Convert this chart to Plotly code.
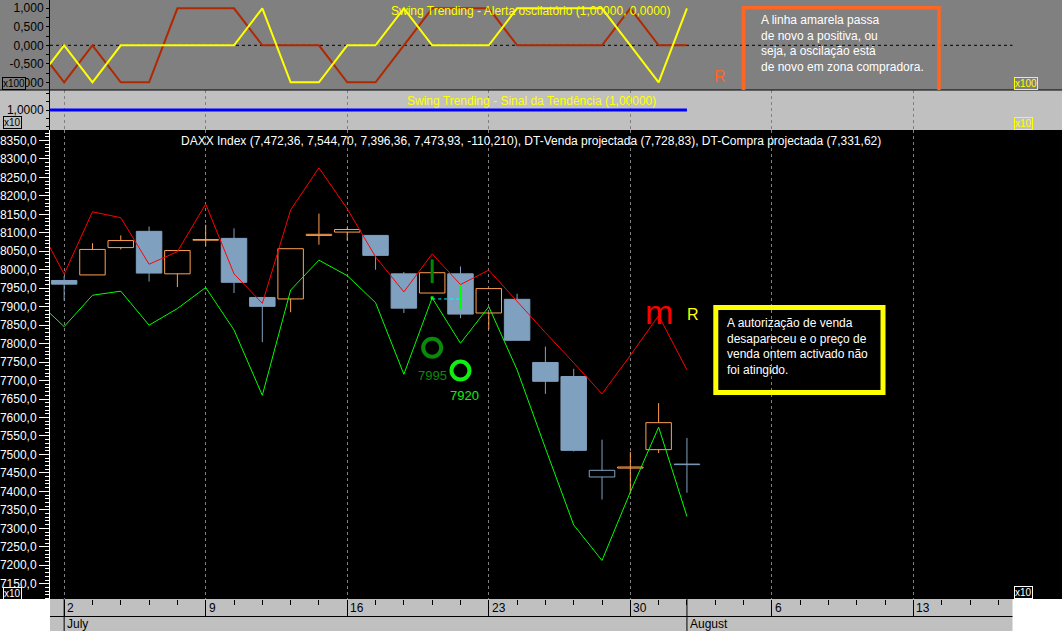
import plotly.graph_objects as go

# ---------------------------------------------------------------- data
# trading-day positions: 0 = Mon 2 July 2012 ... 22 = Wed 1 August 2012
candle_pos = [0, 1, 2, 3, 4, 5, 6, 7, 8, 9, 10, 11, 12, 13, 14, 15, 16, 17, 18, 19, 20, 21, 22]
candle_open = [7971, 7986, 8060, 8104, 7989, 8080, 8085, 7925, 7921, 8093, 8102, 8093,
               7989, 7937, 7989, 7883, 7920, 7749, 7711, 7439, 7463, 7513, 7472.36]
candle_high = [7983, 8072, 8093, 8117, 8052, 8122, 8112, 7925, 8057, 8152, 8115, 8093,
               7994, 7992, 8009, 7949, 7935, 7792, 7732, 7540, 7507, 7639, 7544.70]
candle_low = [7916, 7986, 8055, 7968, 7953, 8064, 7937, 7804, 7885, 8068, 8079, 8000,
              7883, 7937, 7869, 7838, 7809, 7664, 7508, 7378, 7394, 7504, 7396.36]
candle_close = [7961, 8055, 8079, 7991, 8052, 8082, 7966, 7901, 8057, 8096, 8109, 8039,
                7896, 7992, 7880, 7949, 7809, 7698, 7511, 7457, 7466, 7586, 7473.93]
candle_kind = ["down", "up", "up", "down", "up", "up", "down", "down", "up", "up", "up", "down",
               "down", "up", "down", "up", "down", "down", "down", "outline", "up", "up", "outline"]

# indicator lines (position -1 = last day of June, partly visible)
line_pos = [-1, 0, 1, 2, 3, 4, 5, 6, 7, 8, 9, 10, 11, 12, 13, 14, 15, 16, 17, 18, 19, 20, 21, 22]
sell_projected = [8133, 7988, 8157, 8141, 8015, 8049, 8178, 7989, 7909, 8162, 8276, 8165,
                  8035, 7940, 8043, 7960, 7999, 7914, 7830, 7748, 7664, 7768, 7876, 7729]
buy_projected = [7918, 7846, 7931, 7942, 7850, 7895, 7952, 7837, 7660, 7945, 8026, 7984,
                 7911, 7717, 7924, 7801, 7900, 7729, 7517, 7309, 7213, 7398, 7574, 7332]
osc_yellow = [-1, 0, -1, 0, 0, 0, 0, 0, 1, -1, -1, 0, 0, 1, 0, 0, 0, 1, 1, 1, 1, 0, -1, 1]
osc_brown = [0, -1, 0, -1, -1, 1, 1, 1, 0, 0, 0, -1, -1, 0, 1, 1, 1, 0, 0, 0, 0, 1, 0, 0]
trend_signal = [1.0, 1.0, 1.0, 1.0, 1.0, 1.0, 1.0, 1.0, 1.0, 1.0, 1.0, 1.0,
                1.0, 1.0, 1.0, 1.0, 1.0, 1.0, 1.0, 1.0, 1.0, 1.0, 1.0, 1.0]

# signal marks
dark_bar_pos, dark_bar_from, dark_bar_to = 13, 8028, 7964
light_bar_pos, light_bar_from, light_bar_to = 14, 7956, 7892
stop_pos = [13, 14]
stop_val = [7921, 7921]
ring_dark_pos, ring_dark_val, ring_dark_text, ring_dark_text_val = 13, 7789, "7995", 7713
ring_light_pos, ring_light_val, ring_light_text, ring_light_text_val = 14, 7727, "7920", 7659
m_pos, m_val = 21.0, 7886
r_pos, r_val = 22.2, 7880

# axis labels
week_pos = [0, 5, 10, 15, 20, 25, 30]
week_labels = ["2", "9", "16", "23", "30", "6", "13"]
month_pos = [0, 22]
month_labels = ["July", "August"]
osc_tickvals = [1, 0.5, 0, -0.5, -1]
osc_ticktext = ["1,000", "0,500", "0,000", "-0,500", "-1,000"]

header = ("DAXX Index (7,472,36, 7,544,70, 7,396,36, 7,473,93, -110,210), "
          "DT-Venda projectada (7,728,83), DT-Compra projectada (7,331,62)")
osc_title = "Swing Trending - Alerta oscilatório (1,00000, 0,0000)"
trend_title = "Swing Trending - Sinal da Tendência (1,00000)"
note_top = ("A linha amarela passa<br>de novo a positiva, ou<br>"
            "seja, a oscilação está<br>de novo em zona compradora.")
note_main = ("A autorização de venda<br>desapareceu e o preço de<br>"
             "venda ontem activado não<br>foi atingido.")

# ---------------------------------------------------------------- layout helpers
W, H = 1062, 631
PL, PR = 50, 1012.5
FONT = "Liberation Sans, Arial, sans-serif"


def fx(p):
    return p / W


def fy(p):
    return 1 - p / H


BLUE = "#80a0c0"
ORANGE = "#ffa050"
fill_map = {"down": BLUE, "up": "rgba(0,0,0,0)", "outline": "rgba(0,0,0,0)"}
edge_map = {"down": BLUE, "up": ORANGE, "outline": BLUE}

body_base = [min(o, c) for o, c in zip(candle_open, candle_close)]
body_len = [abs(c - o) for o, c in zip(candle_open, candle_close)]

wx = {"blue": [], "orange": []}
wy = {"blue": [], "orange": []}
for p, o, h, l, c, k in zip(candle_pos, candle_open, candle_high, candle_low, candle_close, candle_kind):
    key = "orange" if k == "up" else "blue"
    top, bot = max(o, c), min(o, c)
    wx[key] += [p, p, None, p, p, None]
    wy[key] += [h, top, None, bot, l, None]

fig = go.Figure()

# candle bodies
fig.add_trace(go.Bar(
    x=candle_pos, base=body_base, y=body_len, width=0.9,
    marker=dict(color=[fill_map[k] for k in candle_kind],
                line=dict(color=[edge_map[k] for k in candle_kind], width=1)),
    xaxis="x", yaxis="y", hoverinfo="skip"))
# wicks
fig.add_trace(go.Scatter(x=wx["blue"], y=wy["blue"], mode="lines",
                         line=dict(color=BLUE, width=1), xaxis="x", yaxis="y", hoverinfo="skip"))
fig.add_trace(go.Scatter(x=wx["orange"], y=wy["orange"], mode="lines",
                         line=dict(color=ORANGE, width=1), xaxis="x", yaxis="y", hoverinfo="skip"))
# projected lines
fig.add_trace(go.Scatter(x=line_pos, y=sell_projected, mode="lines",
                         line=dict(color="#ff0000", width=1), xaxis="x", yaxis="y"))
fig.add_trace(go.Scatter(x=line_pos, y=buy_projected, mode="lines",
                         line=dict(color="#00ff00", width=1), xaxis="x", yaxis="y"))
# signal marks
fig.add_trace(go.Scatter(x=[dark_bar_pos, dark_bar_pos], y=[dark_bar_from, dark_bar_to], mode="lines",
                         line=dict(color="#008800", width=3), xaxis="x", yaxis="y"))
fig.add_trace(go.Scatter(x=[light_bar_pos, light_bar_pos], y=[light_bar_from, light_bar_to], mode="lines",
                         line=dict(color="#00ff00", width=3), xaxis="x", yaxis="y"))
fig.add_trace(go.Scatter(x=stop_pos, y=stop_val, mode="lines",
                         line=dict(color="#00ffff", width=1, dash="3px,3px"), xaxis="x", yaxis="y"))
fig.add_trace(go.Scatter(x=[stop_pos[0]], y=[buy_projected[line_pos.index(stop_pos[0])]], mode="markers",
                         marker=dict(symbol="square", size=3, color="#00ff00"), xaxis="x", yaxis="y"))
fig.add_trace(go.Scatter(x=[ring_dark_pos], y=[ring_dark_val], mode="markers",
                         marker=dict(symbol="circle-open", size=18, color="#0a8a0a", line=dict(width=4)),
                         xaxis="x", yaxis="y"))
fig.add_trace(go.Scatter(x=[ring_light_pos], y=[ring_light_val], mode="markers",
                         marker=dict(symbol="circle-open", size=18, color="#10f010", line=dict(width=4)),
                         xaxis="x", yaxis="y"))

# oscillator panel
fig.add_trace(go.Scatter(x=line_pos, y=osc_brown, mode="lines",
                         line=dict(color="#b02800", width=2), xaxis="x2", yaxis="y2"))
fig.add_trace(go.Scatter(x=line_pos, y=osc_yellow, mode="lines",
                         line=dict(color="#ffff00", width=2), xaxis="x2", yaxis="y2"))
# trend panel
fig.add_trace(go.Scatter(x=line_pos, y=trend_signal, mode="lines",
                         line=dict(color="#0000ff", width=3), xaxis="x3", yaxis="y3"))

XD = [fx(PL), fx(PR)]
grid = dict(showgrid=True, gridcolor="#808080", griddash="3px,3px", gridwidth=1)

main_y = dict(range=[7108.6, 8378.4], tickmode="linear", tick0=0, dtick=50, tickformat=".1f",
              ticks="outside", tickcolor="white", tickfont=dict(color="white", size=12, family=FONT),
              showline=True, linecolor="white", linewidth=1, showgrid=False, zeroline=False)
osc_y = dict(range=[-1.208, 1.224], tickmode="array", tickvals=osc_tickvals, ticktext=osc_ticktext,
             ticks="outside", ticklen=3, showgrid=False, zeroline=False, showline=True, linewidth=1)
trend_y = dict(range=[0.405, 1.595], tickmode="array", tickvals=[1], ticktext=["1,0000"],
               ticks="outside", ticklen=3, showgrid=False, zeroline=False, showline=True, linewidth=1)

fig.update_layout(
    width=W, height=H, autosize=False, margin=dict(l=0, r=0, t=0, b=0),
    paper_bgcolor="white", plot_bgcolor="rgba(0,0,0,0)", showlegend=False,
    barmode="overlay", separators=",.", hovermode=False,
    font=dict(family=FONT, size=12, color="white"),
    xaxis=dict(domain=XD, range=[-0.5, 33.5], anchor="y", tickmode="linear", tick0=0, dtick=5,
               ticks="outside", ticklen=17, tickcolor="black", tickwidth=1, showticklabels=False,
               zeroline=False, showline=False,
               minor=dict(tickmode="linear", tick0=0, dtick=1, ticks="outside", ticklen=5,
                          tickcolor="black", showgrid=False),
               **grid),
    xaxis2=dict(domain=XD, matches="x", anchor="y2", showticklabels=False, ticks="",
                showgrid=False, zeroline=False, showline=False),
    xaxis3=dict(domain=XD, matches="x", anchor="y3", showticklabels=False, ticks="",
                tickmode="linear", tick0=0, dtick=5, zeroline=False, showline=False, **grid),
    yaxis=dict(domain=[fy(599), fy(130)], anchor="x", side="left", ticklen=10,
               minor=dict(ticks="outside", ticklen=4, tickcolor="white", tick0=0, dtick=10, showgrid=False),
               **main_y),
    yaxis4=dict(overlaying="y", anchor="x", side="right", ticklen=5,
                minor=dict(ticks="outside", ticklen=3, tickcolor="white", tick0=0, dtick=10, showgrid=False),
                **main_y),
    yaxis2=dict(domain=[fy(90), 1], anchor="x2", side="left", linecolor="black", tickcolor="black",
                tickfont=dict(color="black", size=12, family=FONT),
                minor=dict(ticks="outside", ticklen=3, tickcolor="black", tick0=0, dtick=0.25, showgrid=False),
                **osc_y),
    yaxis5=dict(overlaying="y2", anchor="x2", side="right", linecolor="#ffff00", tickcolor="#ffff00",
                tickfont=dict(color="#ffff00", size=12, family=FONT),
                minor=dict(ticks="outside", ticklen=3, tickcolor="#ffff00", tick0=0, dtick=0.1, showgrid=False),
                **osc_y),
    yaxis3=dict(domain=[fy(130), fy(90)], anchor="x3", side="left", linecolor="black", tickcolor="black",
                tickfont=dict(color="black", size=12, family=FONT),
                minor=dict(ticks="outside", ticklen=3, tickcolor="black", tick0=0, dtick=0.25, showgrid=False),
                **trend_y),
    yaxis6=dict(overlaying="y3", anchor="x3", side="right", linecolor="#ffff00", tickcolor="#ffff00",
                tickfont=dict(color="#ffff00", size=12, family=FONT),
                minor=dict(ticks="outside", ticklen=3, tickcolor="#ffff00", tick0=0, dtick=0.25, showgrid=False),
                **trend_y),
)

shapes = [
    dict(type="rect", xref="paper", yref="paper", x0=0, x1=1, y0=fy(90), y1=1,
         fillcolor="#808080", line=dict(width=0), layer="below"),
    dict(type="rect", xref="paper", yref="paper", x0=0, x1=1, y0=fy(130), y1=fy(90),
         fillcolor="#c0c0c0", line=dict(width=0), layer="below"),
    dict(type="rect", xref="paper", yref="paper", x0=0, x1=1, y0=fy(599), y1=fy(130),
         fillcolor="black", line=dict(width=0), layer="below"),
    dict(type="rect", xref="paper", yref="paper", x0=fx(PL), x1=fx(PR), y0=0, y1=fy(599),
         fillcolor="#c0c0c0", line=dict(width=0), layer="below"),
    dict(type="line", xref="paper", yref="paper", x0=0, x1=1, y0=fy(90), y1=fy(90),
         line=dict(color="black", width=1)),
    dict(type="line", xref="paper", yref="paper", x0=fx(PL), x1=fx(PR), y0=fy(616.5), y1=fy(616.5),
         line=dict(color="black", width=1)),
    dict(type="line", xref="x2 domain", yref="y2", x0=0, x1=1, y0=0, y1=0,
         line=dict(color="black", width=1, dash="3px,3px"), layer="below"),
    # orange note frame (bottom edge cut by the panel)
    dict(type="path", xref="paper", yref="paper",
         path=f"M {fx(743.5)},{fy(90)} L {fx(743.5)},{fy(7.7)} L {fx(939)},{fy(7.7)} L {fx(939)},{fy(90)}",
         line=dict(color="#ff6622", width=3.5)),
    # yellow note frame
    dict(type="rect", xref="paper", yref="paper", x0=fx(715.8), x1=fx(883), y0=fy(392.5), y1=fy(307.5),
         line=dict(color="#ffff00", width=5)),
]
for mp in month_pos:
    shapes.append(dict(type="line", xref="x", yref="paper", x0=mp, x1=mp, y0=0, y1=fy(599),
                       line=dict(color="black", width=1)))
fig.update_layout(shapes=shapes)


def label(text, x, y, color, size, xref="paper", yref="paper", xanchor="center", **kw):
    return dict(text=text, xref=xref, yref=yref, x=x, y=y, xanchor=xanchor, yanchor="middle",
                showarrow=False, font=dict(color=color, size=size, family=FONT), **kw)


ann = [
    label(header, 0.5, fy(141), "white", 12, xref="x domain"),
    label(osc_title, 0.5, fy(11), "#ffff00", 12, xref="x domain"),
    label(trend_title, 0.5, fy(101), "#ffff00", 12, xref="x domain"),
    label(note_top, fx(759), fy(43.5), "white", 12, xanchor="left", align="left"),
    label(note_main, fx(725), fy(346.5), "white", 12, xanchor="left", align="left"),
    label("R", fx(720), fy(76), "#ff6622", 16),
    label("m", m_pos, m_val, "#ff0000", 34, xref="x", yref="y"),
    label("R", r_pos, r_val, "#ffff00", 16, xref="x", yref="y"),
    label(ring_dark_text, ring_dark_pos, ring_dark_text_val, "#0a8a0a", 13, xref="x", yref="y"),
    label(ring_light_text, ring_light_pos + 0.13, ring_light_text_val, "#10f010", 13, xref="x", yref="y"),
]
# small scale boxes
for (cx, cy, txt, col, bg) in [(14, 83.5, "x100", "black", "#808080"), (12, 122.5, "x10", "black", "#c0c0c0"),
                               (12, 593, "x10", "white", "black"), (1025.5, 83.5, "x100", "#ffff00", "#808080"),
                               (1023, 123, "x10", "#ffff00", "#c0c0c0"), (1023, 592.5, "x10", "white", "black")]:
    ann.append(label(txt, fx(cx), fy(cy), col, 10, bgcolor=bg, bordercolor=col, borderwidth=1, borderpad=0))
for p, t in zip(week_pos, week_labels):
    ann.append(label(t, p, fy(608), "black", 12, xref="x", xanchor="left", xshift=1))
for p, t in zip(month_pos, month_labels):
    ann.append(label(t, p, fy(624), "black", 12, xref="x", xanchor="left", xshift=1))
fig.update_layout(annotations=ann)

fig.write_html("out.html", config={"displayModeBar": False},
               post_script="document.body.style.margin='0';document.body.style.overflow='hidden';")
